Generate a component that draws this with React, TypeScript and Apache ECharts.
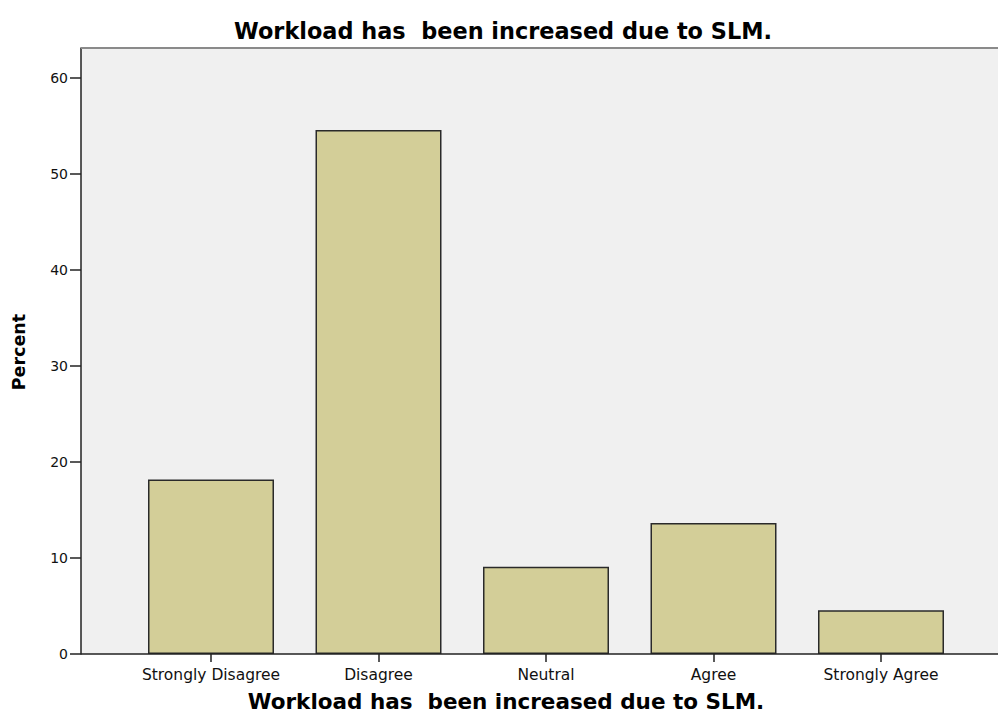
import React, { useEffect, useRef } from "react";
import * as echarts from "echarts";

const categories = ["Strongly Disagree", "Disagree", "Neutral", "Agree", "Strongly Agree"];
const percents = [18.18, 54.55, 9.09, 13.64, 4.55];
const chartTitle = "Workload has  been increased due to SLM.";
const xTitle = "Workload has  been increased due to SLM.";
const yTitle = "Percent";

export default function App() {
  const ref = useRef<HTMLDivElement>(null);
  useEffect(() => {
    if (!ref.current) return;
    const chart = echarts.init(ref.current, null, { renderer: "svg" });
    chart.setOption({
      animation: false,
      backgroundColor: "#ffffff",
      grid: { left: 127.25, top: 48, width: 837.5, height: 606 },
      xAxis: {
        type: "category",
        data: categories,
        boundaryGap: true,
        axisLine: { show: false },
        axisTick: { show: true, alignWithLabel: true, length: 8, lineStyle: { color: "#222", width: 1.5 } },
        axisLabel: { interval: 0, fontFamily: "DejaVu Sans", fontSize: 15.5, color: "#111", margin: 13 },
        splitLine: { show: false },
      },
      yAxis: {
        type: "value",
        min: 0,
        max: 63.1,
        interval: 10,
        offset: 46.25,
        axisLine: { show: true, lineStyle: { color: "#222", width: 1.5 } },
        axisTick: { show: true, length: 11, lineStyle: { color: "#222", width: 1.5 } },
        axisLabel: { fontFamily: "DejaVu Sans", fontSize: 14, color: "#111", margin: 13, showMaxLabel: false },
        splitLine: { show: false },
      },
      graphic: [
        { type: "rect", z: -10, silent: true, shape: { x: 81, y: 48, width: 917, height: 606 }, style: { fill: "#f0f0f0" } },
        { type: "line", z: 10, silent: true, shape: { x1: 81, y1: 48, x2: 998, y2: 48 }, style: { stroke: "#8a8a8a", lineWidth: 2 } },
        { type: "line", z: 10, silent: true, shape: { x1: 81, y1: 654, x2: 998, y2: 654 }, style: { stroke: "#222", lineWidth: 1.5 } },
        {
          type: "text", x: 503, y: 31, silent: true,
          style: { text: chartTitle, fontFamily: "DejaVu Sans", fontWeight: "bold", fontSize: 22.4, fill: "#000", align: "center", verticalAlign: "middle" },
        },
        {
          type: "text", x: 506, y: 701, silent: true,
          style: { text: xTitle, fontFamily: "DejaVu Sans", fontWeight: "bold", fontSize: 21.5, fill: "#000", align: "center", verticalAlign: "middle" },
        },
        {
          type: "text", x: 19, y: 352, rotation: Math.PI / 2, silent: true,
          style: { text: yTitle, fontFamily: "DejaVu Sans", fontWeight: "bold", fontSize: 17.5, fill: "#000", align: "center", verticalAlign: "middle" },
        },
      ],
      series: [
        {
          type: "bar",
          data: percents,
          barWidth: 126,
          itemStyle: { color: "#d3ce98", borderColor: "#2a2a2a", borderWidth: 1.5 },
        },
      ],
    });
    return () => chart.dispose();
  }, []);
  return <div ref={ref} style={{ position: "fixed", left: 0, top: 0, width: 998, height: 718 }} />;
}
